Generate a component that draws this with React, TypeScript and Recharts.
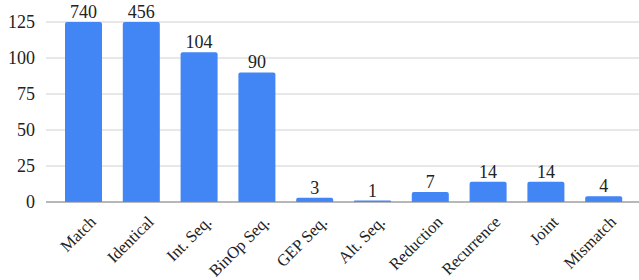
import React from 'react';
import { BarChart, Bar, XAxis, YAxis, CartesianGrid, LabelList } from 'recharts';

const categories = ['Match', 'Identical', 'Int. Seq.', 'BinOp Seq.', 'GEP Seq.', 'Alt. Seq.', 'Reduction', 'Recurrence', 'Joint', 'Mismatch'];
const counts = [740, 456, 104, 90, 3, 1, 7, 14, 14, 4];
const yTicks = [0, 25, 50, 75, 100, 125];
const Y_MAX = 125;

const FONT = "'Liberation Serif', 'Times New Roman', serif";

// bars above the axis max are cut at the top, the label keeps the real count
const data = categories.map((name, i) => ({
  name,
  count: counts[i],
  shown: Math.min(counts[i], Y_MAX),
}));

const AngledTick = (props: any) => {
  const { x, y, payload } = props;
  return (
    <g transform={`translate(${x + 13},${y + 13})`}>
      <text transform="rotate(-45)" textAnchor="end" fontSize={16.5} fontFamily={FONT} fill="#222">
        {payload.value}
      </text>
    </g>
  );
};

const App: React.FC = () => {
  return (
    <div className="chart-box" style={{ position: 'absolute', left: 0, top: 0, background: '#fff' }}>
      <style>{`.chart-box svg text, .chart-box svg tspan { font-family: ${FONT} !important; }`}</style>
      <BarChart
        width={639}
        height={280}
        data={data}
        margin={{ top: 22, right: 0, bottom: 0, left: 0 }}
      >
        <CartesianGrid vertical={false} stroke="#d0d0d0" strokeWidth={1} />
        <XAxis
          dataKey="name"
          interval={0}
          height={78}
          tickLine={false}
          axisLine={{ stroke: '#888' }}
          padding={{ left: 9, right: 6 }}
          tick={<AngledTick />}
        />
        <YAxis
          width={46}
          domain={[0, Y_MAX]}
          ticks={yTicks}
          allowDataOverflow
          tickLine={false}
          axisLine={false}
          tickMargin={5}
          tick={{ fontSize: 18, fill: '#222', fontFamily: FONT }}
        />
        <Bar dataKey="shown" fill="#4285F4" barSize={37} radius={[2, 2, 0, 0]} isAnimationActive={false}>
          <LabelList dataKey="count" position="top" offset={4} fill="#222" fontSize={18} fontFamily={FONT} />
        </Bar>
      </BarChart>
    </div>
  );
};

export default App;
